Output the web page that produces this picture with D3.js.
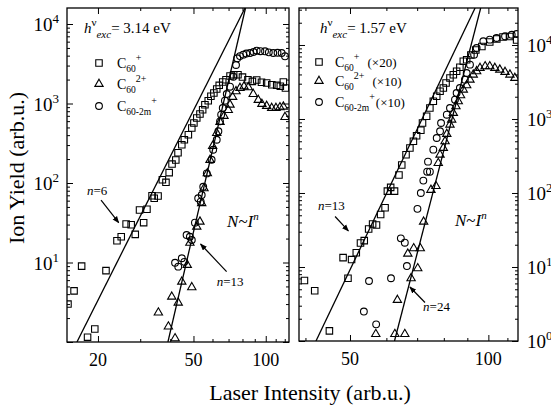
<!DOCTYPE html>
<html>
<head>
<meta charset="utf-8">
<script src="https://cdn.jsdelivr.net/npm/d3@7"></script>
<style>
  body { margin: 0; background: #fff; }
  svg { display: block; }
  text { font-family: "Liberation Serif", "Times New Roman", serif; fill: #000; }
</style>
</head>
<body>
<svg id="chart" width="551" height="408"></svg>
<script>
// ---- 3.14 eV excitation (left panel) ----
const leftSquareI = [15.0, 15.9, 17.1, 18.1, 19.4, 21.6, 24.0, 25.0, 26.2, 27.5, 28.6, 29.8, 31.0, 32.0, 33.6, 34.3, 35.6, 37.1, 38.4, 39.6, 40.7, 42.2, 43.1, 44.7, 45.8, 47.6, 49.2, 50.2, 51.6, 53.2, 54.6, 55.8, 57.6, 59.1, 60.8, 62.5, 64.0, 66.2, 68.3, 71.0, 73.5, 76.6, 80.0, 84.3, 88.0, 91.7, 96.0, 100.9, 106.0, 111.1, 115.0, 118.4, 120.8];
const leftSquareN = [3.0, 4.4, 9.0, 1.15, 1.46, 7.9, 18.8, 21.1, 30.5, 29.9, 22.6, 45.7, 31.7, 46.7, 69.2, 64.2, 68.6, 110, 102, 135, 173, 195, 240, 303, 350, 405, 492, 569, 657, 738, 836, 966, 1085, 1232, 1356, 1522, 1693, 1864, 1993, 2218, 2300, 2303, 2150, 1993, 1900, 1975, 1850, 1811, 1720, 1693, 1650, 1864, 1566];

const leftTriangleI = [35.7, 39.3, 40.6, 41.9, 43.2, 44.7, 47.1, 48.3, 49.2, 51.6, 53.2, 54.1, 55.3, 57.1, 58.6, 60.1, 62.5, 64.5, 67.0, 69.8, 71.0, 72.8, 75.2, 78.1, 81.2, 84.6, 88.7, 93.1, 96.4, 100.9, 105.9, 110.3, 114.6, 118.4, 120.3];
const leftTriangleN = [2.34, 1.56, 3.71, 1.11, 3.12, 5.73, 9.30, 17.7, 4.88, 28.2, 32.6, 55.6, 85.8, 132, 195, 292, 425, 585, 697, 828, 966, 1207, 1425, 1566, 1637, 1600, 1316, 1107, 986, 930, 878, 878, 896, 912, 676];

const leftCircleI = [41.9, 43.2, 44.7, 45.8, 46.8, 48.3, 49.2, 50.7, 52.3, 53.6, 54.1, 54.9, 56.8, 59.5, 60.4, 62.5, 63.5, 64.5, 65.2, 66.2, 67.6, 68.8, 71.0, 73.3, 75.2, 76.1, 78.1, 80.6, 83.0, 86.0, 89.0, 91.7, 95.0, 99.3, 103.0, 107.5, 112.0, 116.5, 120.3];
const leftCircleN = [9.94, 8.86, 11.3, 10.2, 22.2, 21.1, 19.2, 31.7, 64.2, 58.2, 70.6, 89.8, 132, 196, 262, 350, 447, 597, 723, 878, 1085, 1316, 1627, 2174, 3050, 3704, 3950, 4113, 4250, 4317, 4450, 4615, 4550, 4537, 4400, 4317, 4350, 4317, 3925];

// power-law fits N ~ I^n : exponent and one point on each line
const leftFitN = [6, 13];
const leftFitAnchorI = [36.6, 47.4];
const leftFitAnchorY = [126, 12.1];

// ---- 1.57 eV excitation (right panel), scaled as in the legend ----
const rightSquareI = [39.8, 41.9, 45.1, 48.3, 49.5, 50.4, 51.6, 52.7, 53.7, 54.9, 56.0, 57.1, 58.3, 59.6, 60.3, 61.3, 62.5, 63.9, 64.8, 66.2, 67.5, 68.7, 69.8, 71.3, 71.9, 73.4, 74.6, 75.9, 77.2, 78.5, 79.8, 80.9, 82.5, 83.9, 85.3, 86.7, 88.2, 89.7, 91.6, 93.9, 96.8, 100.7, 104.3, 107.6, 111.4, 115.2];
const rightSquareN = [6.57, 4.78, 1.37, 13.4, 7.04, 12.6, 15.6, 21.1, 22.7, 32.6, 38.1, 36.9, 51.2, 63.1, 106, 119, 106, 175, 239, 329, 406, 500, 595, 704, 883, 1088, 1409, 1735, 2027, 2367, 2624, 3065, 3580, 3970, 4415, 5000, 6030, 6330, 7330, 8560, 9540, 10990, 12060, 12830, 13030, 11690];

const rightTriangleI = [56.9, 62.6, 65.8, 63.4, 67.9, 70.2, 66.8, 68.8, 71.1, 72.3, 75.0, 76.9, 77.8, 78.5, 79.8, 80.5, 81.2, 82.5, 83.2, 83.9, 85.0, 86.0, 87.0, 88.2, 89.7, 91.2, 92.7, 94.3, 95.9, 98.4, 100.7, 103.3, 105.9, 108.7, 111.4, 114.2];
const rightTriangleN = [1.24, 1.24, 1.24, 3.58, 7.04, 9.60, 15.1, 17.9, 17.9, 40.9, 110, 124, 254, 329, 406, 500, 627, 838, 979, 1205, 1485, 1735, 2090, 2490, 2852, 3396, 3970, 4415, 4890, 5155, 5155, 4890, 4640, 4315, 3970, 3580];

const rightCircleI = [53.6, 55.0, 57.0, 61.4, 64.5, 65.8, 66.5, 70.1, 71.3, 72.2, 73.6, 74.6, 73.9, 75.9, 77.2, 78.5, 78.9, 81.2, 82.5, 84.6, 85.3, 86.7, 88.9, 89.7, 91.2, 93.1, 94.3, 97.5, 100.7, 104.2, 108.7, 112.4, 115.2];
const rightCircleN = [2.50, 6.47, 1.68, 7.04, 24.4, 21.3, 10.3, 61.1, 100, 147, 194, 194, 265, 385, 554, 682, 883, 1143, 1409, 1823, 2245, 2624, 3396, 4185, 5420, 7400, 9100, 11220, 11800, 12440, 13110, 13770, 14090];

const rightFitN = [13, 24];
const rightFitAnchorI = [62.9, 77.6];
const rightFitAnchorY = [181, 181];

// ---- axis ticks ----
const leftXTicks = [20, 30, 40, 50, 60, 70, 80, 90, 100, 110, 120];
const leftXLabels = [20, 50, 100];
const rightXTicks = [40, 50, 60, 70, 80, 90, 100, 110];
const rightXLabels = [50, 100];
const leftYLabels = [1, 2, 3, 4];       // exponents of 10
const rightYLabels = [0, 1, 2, 3, 4];

const photonEnergy = ["3.14", "1.57"];
const legendScale = [["", "", ""], ["(\u00d720)", "(\u00d710)", "(\u00d710)"]];

const svg = d3.select("#chart");
const defs = svg.append("defs");
defs.append("marker")
  .attr("id", "arrowhead").attr("viewBox", "0 0 10 8")
  .attr("refX", 9).attr("refY", 4)
  .attr("markerWidth", 7).attr("markerHeight", 6)
  .attr("markerUnits", "userSpaceOnUse")
  .attr("orient", "auto")
  .append("path").attr("d", "M0,0 L10,4 L0,8 Z").attr("fill", "#000");

const symbolPath = {
  square: d3.symbol().type(d3.symbolSquare).size(42)(),
  triangle: d3.symbol().type(d3.symbolTriangle).size(30)(),
  circle: d3.symbol().type(d3.symbolCircle).size(36)()
};

const panels = [
  {
    id: "a", left: 67, right: 289, top: 8, bottom: 342,
    xDomain: [14.86, 125], yDomain: [1, 15900],
    xTicks: leftXTicks, xLabels: leftXLabels, yLabels: leftYLabels, ySide: "left",
    series: [
      { I: leftSquareI, N: leftSquareN, shape: "square" },
      { I: leftTriangleI, N: leftTriangleN, shape: "triangle" },
      { I: leftCircleI, N: leftCircleN, shape: "circle" }
    ],
    fits: leftFitN.map((n, i) => ({ n, I0: leftFitAnchorI[i], N0: leftFitAnchorY[i] })),
    energy: photonEnergy[0], scale: legendScale[0],
    header: { dx: 17, dy: 25 },
    legend: { mx: 32, rows: [55, 76, 98], tx: 50 },
    notes: [
      { label: "6", at: [18.0, 70.6], arrow: [[20.6, 61.1], [24.4, 31.7]] },
      { label: "13", at: [62.5, 5.06], arrow: [[68.7, 7.66], [53.5, 17.1]] }
    ],
    law: [69.0, 28.0]
  },
  {
    id: "b", left: 299, right: 518, top: 8, bottom: 341,
    xDomain: [38.73, 116.0], yDomain: [1, 31620],
    xTicks: rightXTicks, xLabels: rightXLabels, yLabels: rightYLabels, ySide: "right",
    series: [
      { I: rightSquareI, N: rightSquareN, shape: "square" },
      { I: rightTriangleI, N: rightTriangleN, shape: "triangle" },
      { I: rightCircleI, N: rightCircleN, shape: "circle" }
    ],
    fits: rightFitN.map((n, i) => ({ n, I0: rightFitAnchorI[i], N0: rightFitAnchorY[i] })),
    energy: photonEnergy[1], scale: legendScale[1],
    header: { dx: 21, dy: 25 },
    legend: { mx: 20, rows: [54, 73, 94], tx: 36 },
    notes: [
      { label: "13", at: [42.6, 58.9], arrow: [[46.4, 48.1], [49.6, 30.7]] },
      { label: "24", at: [72.1, 2.54], arrow: [[72.8, 3.31], [67.5, 5.37]] }
    ],
    law: [84.6, 35.8]
  }
];

panels.forEach(drawPanel);

function drawPanel(p) {
  const x = d3.scaleLog().domain(p.xDomain).range([p.left, p.right]);
  const y = d3.scaleLog().domain(p.yDomain).range([p.bottom, p.top]);
  const g = svg.append("g");

  defs.append("clipPath").attr("id", "clip-" + p.id)
    .append("rect").attr("x", p.left).attr("y", p.top)
    .attr("width", p.right - p.left).attr("height", p.bottom - p.top);

  // tick marks on all four sides, pointing inward
  const yMajor = d3.range(0, 5).map(e => Math.pow(10, e)).filter(v => v >= p.yDomain[0] && v <= p.yDomain[1]);
  const yMinor = [];
  for (let e = 0; e < 5; e++) for (let k = 2; k <= 9; k++) {
    const v = k * Math.pow(10, e);
    if (v < p.yDomain[1]) yMinor.push(v);
  }
  const xMajor = p.xLabels;
  const xMinor = p.xTicks.filter(v => !xMajor.includes(v));

  const axes = [
    [d3.axisLeft(y), `translate(${p.left},0)`, yMajor, yMinor],
    [d3.axisRight(y), `translate(${p.right},0)`, yMajor, yMinor],
    [d3.axisBottom(x), `translate(0,${p.bottom})`, xMajor, xMinor],
    [d3.axisTop(x), `translate(0,${p.top})`, xMajor, xMinor]
  ];
  axes.forEach(([axis, tr, major, minor]) => {
    [[major, 6], [minor, 3]].forEach(([vals, len]) => {
      g.append("g").attr("transform", tr)
        .call(axis.tickValues(vals).tickSize(-len).tickSizeOuter(0).tickFormat(""))
        .call(s => s.select(".domain").remove())
        .call(s => s.selectAll("line").attr("stroke", "#000").attr("stroke-width", 1));
    });
  });

  // frame
  g.append("rect").attr("x", p.left).attr("y", p.top)
    .attr("width", p.right - p.left).attr("height", p.bottom - p.top)
    .attr("fill", "none").attr("stroke", "#000").attr("stroke-width", 1.3);

  // y tick labels (10^n)
  p.yLabels.forEach(e => {
    const t = g.append("text")
      .attr("x", p.ySide === "left" ? p.left - 8 : p.right + 9)
      .attr("y", y(Math.pow(10, e)) + 7)
      .attr("text-anchor", p.ySide === "left" ? "end" : "start")
      .attr("font-size", 19);
    t.append("tspan").text("10");
    t.append("tspan").attr("dy", -8).attr("font-size", 13).text(e);
  });

  // x tick labels
  p.xLabels.forEach(v => {
    g.append("text").attr("x", x(v)).attr("y", p.bottom + 24)
      .attr("text-anchor", "middle").attr("font-size", 18).text(v);
  });

  const plot = g.append("g").attr("clip-path", `url(#clip-${p.id})`);

  // power-law fit lines
  p.fits.forEach(f => {
    const Iat = N => f.I0 * Math.pow(N / f.N0, 1 / f.n);
    const ends = [p.yDomain[0], p.yDomain[1]].map(N => [Iat(N), N]);
    plot.append("path")
      .attr("d", d3.line().x(d => x(d[0])).y(d => y(d[1]))(ends))
      .attr("fill", "none").attr("stroke", "#000").attr("stroke-width", 1.3);
  });

  // data markers
  p.series.forEach(s => {
    plot.append("g").selectAll("path")
      .data(s.I.map((v, i) => [v, s.N[i]]))
      .join("path")
      .attr("d", symbolPath[s.shape])
      .attr("transform", d => `translate(${x(d[0])},${y(d[1])})`)
      .attr("fill", "none").attr("stroke", "#000").attr("stroke-width", 1.1);
  });

  // photon energy header
  const hx = p.left + p.header.dx, hy = p.top + p.header.dy;
  const h = g.append("text").attr("x", hx).attr("y", hy).attr("font-size", 15);
  h.append("tspan").attr("font-style", "italic").text("h");
  h.append("tspan").attr("dy", -7).attr("font-size", 11).text("\u03bd");
  h.append("tspan").attr("dy", 12).attr("font-size", 11).attr("font-style", "italic").text("exc");
  h.append("tspan").attr("dy", -5).attr("font-size", 15).text("= " + p.energy + " eV");

  // legend
  const names = [["+"], ["2+"], ["+"]];
  const subs = ["60", "60", "60-2m"];
  ["square", "triangle", "circle"].forEach((shape, i) => {
    const ry = p.top + p.legend.rows[i];
    g.append("path").attr("d", symbolPath[shape])
      .attr("transform", `translate(${p.left + p.legend.mx},${ry})`)
      .attr("fill", "none").attr("stroke", "#000").attr("stroke-width", 1.1);
    const t = g.append("text").attr("x", p.left + p.legend.tx).attr("y", ry + 5).attr("font-size", 14);
    t.append("tspan").text("C");
    t.append("tspan").attr("dy", 4).attr("font-size", 9.5).text(subs[i]);
    t.append("tspan").attr("dy", -11).attr("font-size", 10).text(names[i][0]);
    if (p.scale[i]) {
      t.append("tspan").attr("dy", 7).attr("dx", i === 2 ? 1 : 8).attr("font-size", 13).text(p.scale[i]);
    }
  });

  // exponent annotations with arrows
  p.notes.forEach(nt => {
    const t = g.append("text").attr("x", x(nt.at[0])).attr("y", y(nt.at[1])).attr("font-size", 13);
    t.append("tspan").attr("font-style", "italic").text("n");
    t.append("tspan").text("=" + nt.label);
    g.append("line")
      .attr("x1", x(nt.arrow[0][0])).attr("y1", y(nt.arrow[0][1]))
      .attr("x2", x(nt.arrow[1][0])).attr("y2", y(nt.arrow[1][1]))
      .attr("stroke", "#000").attr("stroke-width", 1.2)
      .attr("marker-end", "url(#arrowhead)");
  });

  // N ~ I^n
  const law = g.append("text").attr("x", x(p.law[0])).attr("y", y(p.law[1])).attr("font-size", 17);
  law.append("tspan").attr("font-style", "italic").text("N");
  law.append("tspan").text("~");
  law.append("tspan").attr("font-style", "italic").text("I");
  law.append("tspan").attr("dy", -7).attr("font-size", 11).attr("font-style", "italic").text("n");
}

// axis titles
svg.append("text")
  .attr("transform", "translate(24,168) rotate(-90)")
  .attr("text-anchor", "middle").attr("font-size", 22)
  .text("Ion Yield (arb.u.)");
svg.append("text")
  .attr("x", 310).attr("y", 400)
  .attr("text-anchor", "middle").attr("font-size", 22)
  .text("Laser Intensity (arb.u.)");
</script>
</body>
</html>
